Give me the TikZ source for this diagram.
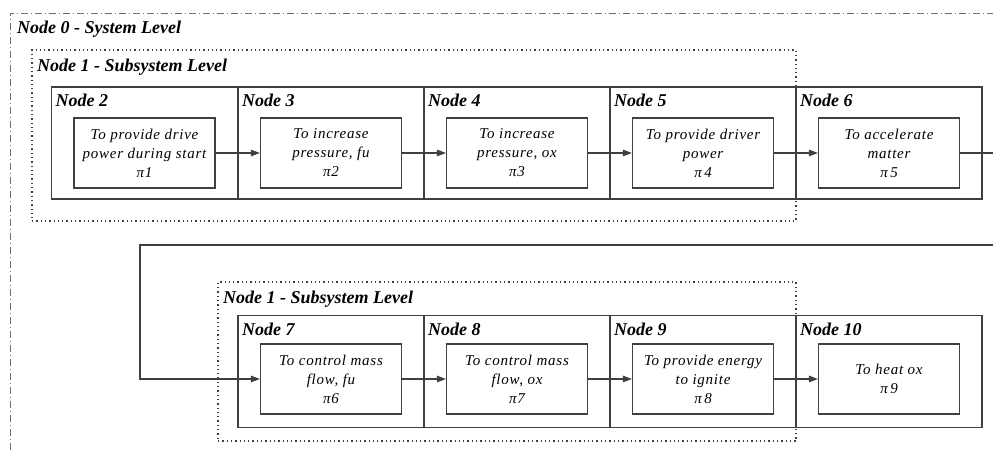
\documentclass[tikz,border=0pt]{standalone}
\usepackage{fontspec}
\setmainfont{Liberation Serif}
\usetikzlibrary{arrows.meta}
\definecolor{ln}{HTML}{404040}
\definecolor{fr}{HTML}{707070}
\begin{document}
\begin{tikzpicture}[x=1pt,y=-1pt,
  hdr/.style={font=\fontsize{18}{21}\selectfont\bfseries\itshape, inner sep=0pt, anchor=base west},
  outerbox/.style={draw=ln, line width=1.1pt, minimum width=186pt, minimum height=112pt, inner sep=0pt},
  fnbox/.style={draw=ln, line width=1.1pt, minimum width=141pt, minimum height=70pt, inner sep=0pt, align=center,
    font=\fontsize{15}{19}\selectfont\itshape\addfontfeature{LetterSpace=5}},
  flow/.style={draw=ln, line width=1.1pt, -{Triangle[length=9pt,width=6.5pt]}},
  plain/.style={draw=ln, line width=1.1pt},
  sysframe/.style={draw=fr, line width=1pt, dash pattern=on 7pt off 3pt on 1pt off 3pt},
  subframe/.style={draw=ln, line width=1.3pt, dash pattern=on 1.3pt off 3pt}
]
\useasboundingbox (0,0) rectangle (993,450);

% system frame
\coordinate (sysbl) at (10,450);
\coordinate (systl) at (10,13);
\coordinate (systr) at (993,13);
\draw[sysframe] (sysbl) -- (systl) -- (systr);
\node[hdr] (sys) at (17,33) {Node 0 - System Level};

% subsystem frames
\node[subframe, draw, minimum width=764pt, minimum height=171pt, inner sep=0pt] (sub1) at (414,135.5) {};
\node[hdr] (sub1t) at (37,71) {Node 1 - Subsystem Level};
\node[subframe, draw, minimum width=578pt, minimum height=159pt, inner sep=0pt] (sub2) at (507,361.5) {};
\node[hdr] (sub2t) at (223,303) {Node 1 - Subsystem Level};

% row 1 outer boxes
\node[outerbox] (o2) at (144.5,143) {};
\node[outerbox] (o3) at (331,143) {};
\node[outerbox] (o4) at (517,143) {};
\node[outerbox] (o5) at (703,143) {};
\node[outerbox] (o6) at (889,143) {};
% row 2 outer boxes
\node[outerbox] (o7) at (331,371.5) {};
\node[outerbox] (o8) at (517,371.5) {};
\node[outerbox] (o9) at (703,371.5) {};
\node[outerbox] (o10) at (889,371.5) {};

% headers
\foreach \n in {2,3,4,5,6}{
  \node[hdr] (h\n) at ([xshift=4.5pt,yshift=-20pt]o\n.north west) {Node \n};
}
\foreach \n in {7,8,9,10}{
  \node[hdr] (h\n) at ([xshift=4.5pt,yshift=-21pt]o\n.north west) {Node \n};
}

% function boxes
\node[fnbox] (f1) at (144.5,153) {To provide drive\\power during start\\π1};
\node[fnbox] (f2) at (331,153) {To increase\\pressure, fu\\π2};
\node[fnbox] (f3) at (517,153) {To increase\\pressure, ox\\π3};
\node[fnbox] (f4) at (703,153) {To provide driver\\power\\π\,4};
\node[fnbox] (f5) at (889,153) {To accelerate\\matter\\π\,5};
\node[fnbox] (f6) at (331,379) {To control mass\\flow, fu\\π6};
\node[fnbox] (f7) at (517,379) {To control mass\\flow, ox\\π7};
\node[fnbox] (f8) at (703,379) {To provide energy\\to ignite\\π\,8};
\node[fnbox] (f9) at (889,379) {To heat ox\\π\,9};

% connectors
\draw[flow] (f1) -- (f2);
\draw[flow] (f2) -- (f3);
\draw[flow] (f3) -- (f4);
\draw[flow] (f4) -- (f5);
\coordinate (out1) at (993,153);
\draw[plain] (f5.east) -- (out1);
\coordinate (in2) at (993,245);
\coordinate (bend) at (140,245);
\draw[flow] (in2) -- (bend) |- (f6.west);
\draw[flow] (f6) -- (f7);
\draw[flow] (f7) -- (f8);
\draw[flow] (f8) -- (f9);
\end{tikzpicture}
\end{document}
